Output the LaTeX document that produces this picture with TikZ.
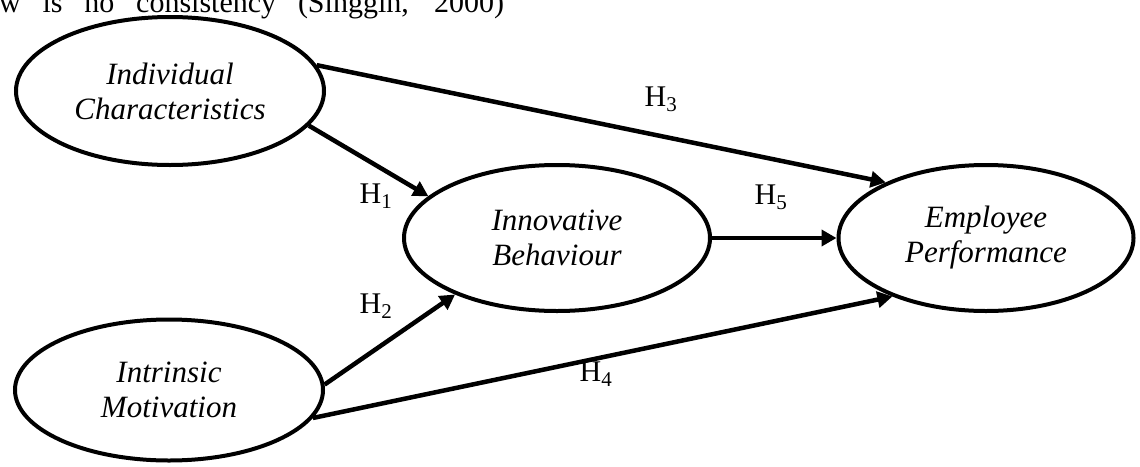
\documentclass[tikz,border=0pt]{standalone}
\usepackage{fontspec}
\setmainfont{Liberation Serif}[ItalicFont={Liberation Serif Italic}, BoldFont={Liberation Serif Bold}]
\usepackage{tikz}
\usetikzlibrary{arrows.meta,shapes.geometric}
\tikzstyle{constructo} = [draw=black, line width=4pt, ellipse, inner sep=0pt, align=center, font=\fontsize{31}{35}\selectfont\itshape]
\tikzstyle{flecha} = [-{Triangle[length=15pt,width=16pt]}, line width=4.5pt]
\tikzstyle{hipotesis} = [font=\fontsize{30}{35}\selectfont, inner sep=0pt]

\begin{document}
\begin{tikzpicture}[x=1pt, y=-1pt]
		\useasboundingbox (0,0) rectangle (1140,466);
		\node[anchor=base west, inner sep=0pt, font=\fontsize{30}{35}\selectfont] (texto) at (-1,12) {\makebox[505pt][s]{w is no consistency (Singgih, 2000)}};
		\node[constructo, minimum width=308pt, minimum height=148pt](ic) at (170,91) {Individual\\Characteristics};
		\node[constructo, minimum width=306pt, minimum height=146pt](ib) at (557,238) {Innovative\\Behaviour};
		\node[constructo, minimum width=295pt, minimum height=146pt](ep) at (986,238) {Employee\\Performance};
		\node[constructo, minimum width=308pt, minimum height=141pt](im) at (169,390) {Intrinsic\\Motivation};
		\draw[flecha] (ic.-14) -- (ib.162);
		\draw[flecha] (ic.10) -- (ep.151);
		\draw[flecha] (ib.east) -- (ep.west);
		\draw[flecha] (im.2) -- (ib.209);
		\draw[flecha] (im.-11) -- (ep.212);
		\node[hipotesis] (h1) at (376,196) {H\textsubscript{1}};
		\node[hipotesis] (h2) at (376,306) {H\textsubscript{2}};
		\node[hipotesis] (h3) at (661,99) {H\textsubscript{3}};
		\node[hipotesis] (h4) at (596,374) {H\textsubscript{4}};
		\node[hipotesis] (h5) at (771,197) {H\textsubscript{5}};
	\end{tikzpicture}
\end{document}
